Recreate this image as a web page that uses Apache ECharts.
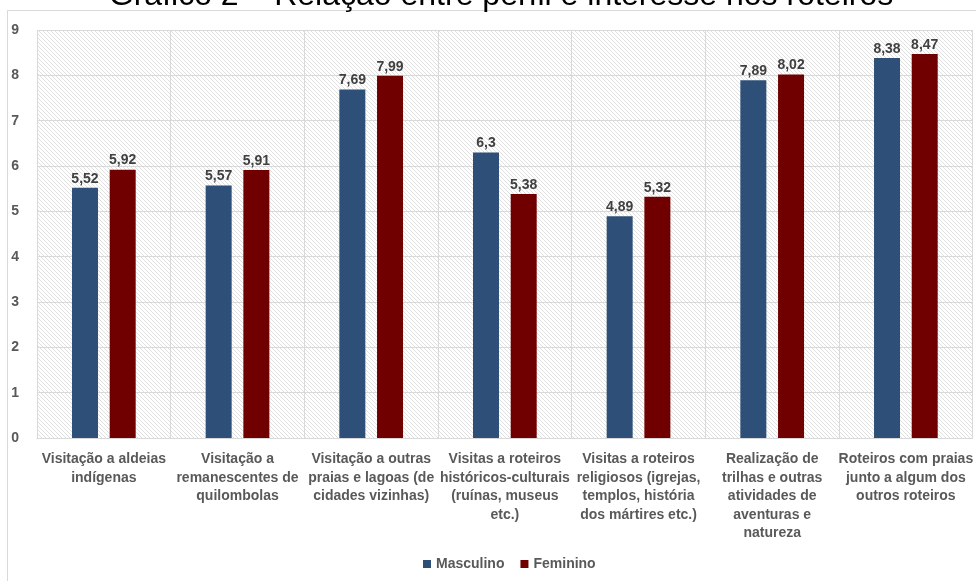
<!DOCTYPE html>
<html>
<head>
<meta charset="utf-8">
<script src="https://cdn.jsdelivr.net/npm/echarts@6/dist/echarts.min.js"></script>
<style>
  html, body { margin: 0; padding: 0; background: #ffffff; }
  #chart { width: 976px; height: 581px; }
</style>
</head>
<body>
<div id="chart"></div>
<script>
// Interesse nos roteiros por gênero (notas médias)
const categories = [
  'Visitação a aldeias\nindígenas',
  'Visitação a\nremanescentes de\nquilombolas',
  'Visitação a outras\npraias e lagoas (de\ncidades vizinhas)',
  'Visitas a roteiros\nhistóricos-culturais\n(ruínas, museus\netc.)',
  'Visitas a roteiros\nreligiosos (igrejas,\ntemplos, história\ndos mártires etc.)',
  'Realização de\ntrilhas e outras\natividades de\naventuras e\nnatureza',
  'Roteiros com praias\njunto a algum dos\noutros roteiros'
];
const masculino = [5.52, 5.57, 7.69, 6.3, 4.89, 7.89, 8.38];
const feminino = [5.92, 5.91, 7.99, 5.38, 5.32, 8.02, 8.47];
const seriesNames = ['Masculino', 'Feminino'];
const titleText = 'Gráfico 2 – Relação entre perfil e interesse nos roteiros';

const FONT = '"Liberation Sans", Arial, sans-serif';

// Diagonal hatch tile for the plot background
function hatchTile() {
  const s = 4;
  const c = document.createElement('canvas');
  c.width = s; c.height = s;
  const ctx = c.getContext('2d');
  ctx.fillStyle = '#ffffff';
  ctx.fillRect(0, 0, s, s);
  ctx.strokeStyle = '#e0e0e0';
  ctx.lineWidth = 1;
  ctx.beginPath();
  for (const k of [-s, 0, s]) {
    ctx.moveTo(0, k);
    ctx.lineTo(s, s + k);
  }
  ctx.stroke();
  return c;
}

const fmt = p => String(p.value).replace('.', ',');

const chart = echarts.init(document.getElementById('chart'));
chart.setOption({
  animation: false,
  graphic: [
    {
      type: 'rect',
      shape: { x: 7.5, y: 10.5, width: 1000, height: 700 },
      style: { fill: 'none', stroke: '#d9d9d9', lineWidth: 1 },
      silent: true,
      z: -10
    },
    {
      // title, partly above the top edge
      type: 'text',
      x: 501,
      y: 12,
      silent: true,
      style: {
        text: titleText,
        fontFamily: FONT,
        fontSize: 32,
        fill: '#000000',
        align: 'center',
        verticalAlign: 'bottom'
      }
    }
  ],
  legend: {
    bottom: 5,
    left: 418,
    itemWidth: 8,
    itemHeight: 8,
    itemGap: 16,
    icon: 'rect',
    textStyle: { fontFamily: FONT, fontSize: 14, fontWeight: 'bold', color: '#595959' },
    data: seriesNames
  },
  grid: {
    left: 37,
    right: 1,
    top: 30,
    bottom: 143,
    show: true,
    borderWidth: 0,
    backgroundColor: { image: hatchTile(), repeat: 'repeat' }
  },
  xAxis: {
    type: 'category',
    data: categories,
    axisTick: { show: false },
    axisLine: { lineStyle: { color: '#d9d9d9' } },
    splitLine: { show: true, lineStyle: { color: '#d9d9d9' } },
    axisLabel: {
      interval: 0,
      margin: 12,
      fontFamily: FONT,
      fontSize: 14,
      fontWeight: 'bold',
      lineHeight: 18.5,
      color: '#595959'
    }
  },
  yAxis: {
    type: 'value',
    min: 0,
    max: 9,
    interval: 1,
    axisLine: { show: false },
    axisTick: { show: false },
    splitLine: { lineStyle: { color: '#d9d9d9' } },
    axisLabel: {
      margin: 18,
      fontFamily: FONT,
      fontSize: 14,
      fontWeight: 'bold',
      color: '#595959'
    }
  },
  series: [
    {
      name: seriesNames[0],
      type: 'bar',
      data: masculino,
      barWidth: 26,
      barGap: '45%',
      itemStyle: { color: '#2e4f77' },
      label: {
        show: true, position: 'top', distance: 2, formatter: fmt,
        fontFamily: FONT, fontSize: 14, fontWeight: 'bold', color: '#404040'
      }
    },
    {
      name: seriesNames[1],
      type: 'bar',
      data: feminino,
      barWidth: 26,
      itemStyle: { color: '#700000' },
      label: {
        show: true, position: 'top', distance: 2, formatter: fmt,
        fontFamily: FONT, fontSize: 14, fontWeight: 'bold', color: '#404040'
      }
    }
  ]
});
</script>
</body>
</html>
